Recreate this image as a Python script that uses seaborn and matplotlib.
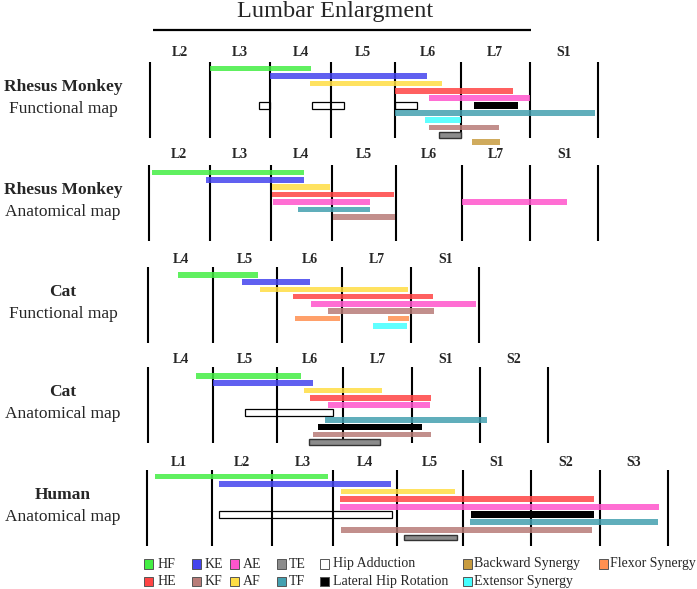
"""
Spinal segment maps of hindlimb muscle pools (rhesus monkey, cat, human)
Floating bars drawn over segment boundaries, one block per map
"""

import numpy as np
import pandas as pd
import matplotlib
matplotlib.use("Agg")
import matplotlib.pyplot as plt
from matplotlib.patches import Rectangle
import seaborn as sns

# ---- data: segment names of each map ----
RM_SEGMENTS = ['L2', 'L3', 'L4', 'L5', 'L6', 'L7', 'S1']
CAT_F_SEGMENTS = ['L4', 'L5', 'L6', 'L7', 'S1']
CAT_A_SEGMENTS = ['L4', 'L5', 'L6', 'L7', 'S1', 'S2']
HUMAN_SEGMENTS = ['L1', 'L2', 'L3', 'L4', 'L5', 'S1', 'S2', 'S3']

# ---- data: extents in segment units (0 = rostral edge of first segment) ----
RM_FUNC_MUSCLE = ['HF', 'KE', 'AF', 'HE', 'AE', 'Hip Adduction', 'Hip Adduction',
                  'Hip Adduction', 'Lateral Hip Rotation', 'TF', 'Extensor Synergy',
                  'KF', 'TE', 'Backward Synergy']
RM_FUNC_START = [1.00, 2.00, 2.66, 4.00, 4.51, 1.81, 2.69, 4.00, 5.19, 4.00, 4.45, 4.51, 4.67, 5.16]
RM_FUNC_END = [2.67, 4.49, 4.71, 5.76, 6.00, 2.00, 3.21, 4.33, 5.83, 6.97, 5.00, 5.55, 5.00, 5.57]
RM_FUNC_ROW = [0, 1, 2, 3, 4, 5, 5, 5, 5, 6, 7, 8, 9, 10]

RM_ANAT_MUSCLE = ['HF', 'KE', 'AF', 'HE', 'AE', 'AE', 'TF', 'KF']
RM_ANAT_START = [0.05, 0.93, 2.02, 2.02, 2.03, 5.01, 2.44, 3.02]
RM_ANAT_END = [2.54, 2.55, 2.97, 3.97, 3.59, 6.54, 3.59, 3.99]
RM_ANAT_ROW = [0, 1, 2, 3, 4, 4, 5, 6]

CAT_FUNC_MUSCLE = ['HF', 'KE', 'AF', 'HE', 'AE', 'KF', 'Flexor Synergy',
                   'Flexor Synergy', 'Extensor Synergy']
CAT_FUNC_START = [0.46, 1.46, 1.74, 2.25, 2.53, 2.78, 2.28, 3.67, 3.45]
CAT_FUNC_END = [1.71, 2.51, 3.96, 4.32, 4.95, 4.33, 2.97, 3.97, 3.94]
CAT_FUNC_ROW = [0, 1, 2, 3, 4, 5, 6, 6, 7]

CAT_ANAT_MUSCLE = ['HF', 'KE', 'AF', 'HE', 'AE', 'Hip Adduction', 'TF',
                   'Lateral Hip Rotation', 'KF', 'TE']
CAT_ANAT_START = [0.73, 1.00, 2.41, 2.50, 2.78, 1.50, 2.73, 2.62, 2.54, 2.48]
CAT_ANAT_END = [2.37, 2.55, 3.57, 4.28, 4.26, 2.85, 5.11, 4.14, 4.28, 3.53]
CAT_ANAT_ROW = [0, 1, 2, 3, 4, 5, 6, 7, 8, 9]

HUMAN_MUSCLE = ['HF', 'KE', 'AF', 'HE', 'AE', 'Hip Adduction', 'Lateral Hip Rotation',
                'TF', 'KF', 'TE']
HUMAN_START = [0.13, 1.12, 3.12, 3.10, 3.10, 1.12, 5.12, 5.11, 3.12, 4.10]
HUMAN_END = [2.91, 3.90, 4.89, 6.92, 7.87, 3.92, 6.92, 7.86, 6.89, 4.92]
HUMAN_ROW = [0, 1, 2, 3, 4, 5, 5, 6, 7, 8]

LEGEND_ROW1 = ['HF', 'KE', 'AE', 'TE', 'Hip Adduction', 'Backward Synergy', 'Flexor Synergy']
LEGEND_ROW2 = ['HE', 'KF', 'AF', 'TF', 'Lateral Hip Rotation', 'Extensor Synergy']

COLORS = {
    'HF': '#44ee44', 'KE': '#4444ee', 'AE': '#ff55cc', 'TE': '#8c8c8c',
    'HE': '#ff4444', 'KF': '#b87c78', 'AF': '#ffdd44', 'TF': '#44a0b0',
    'Hip Adduction': '#ffffff', 'Lateral Hip Rotation': '#000000',
    'Backward Synergy': '#c89c40', 'Flexor Synergy': '#ff9050',
    'Extensor Synergy': '#44ffff',
}

# ---- layout (figure pixels) ----
PANELS = [
    dict(name='Rhesus Monkey', sub='Functional map', segs=RM_SEGMENTS,
         muscle=RM_FUNC_MUSCLE, start=RM_FUNC_START, end=RM_FUNC_END, row=RM_FUNC_ROW,
         bounds=[150, 209.5, 270, 331, 395, 461, 529.5, 597.5], top=62, lab=10, r0=6.7, dr=7.35),
    dict(name='Rhesus Monkey', sub='Anatomical map', segs=RM_SEGMENTS,
         muscle=RM_ANAT_MUSCLE, start=RM_ANAT_START, end=RM_ANAT_END, row=RM_ANAT_ROW,
         bounds=[148.5, 210, 270.7, 332, 396, 461.7, 530.3, 598.3], top=165, lab=10, r0=7.3, dr=7.45),
    dict(name='Cat', sub='Functional map', segs=CAT_F_SEGMENTS,
         muscle=CAT_FUNC_MUSCLE, start=CAT_FUNC_START, end=CAT_FUNC_END, row=CAT_FUNC_ROW,
         bounds=[148.3, 212.7, 276.7, 342.3, 411, 479.3], top=267, lab=7.3, r0=7.7, dr=7.3),
    dict(name='Cat', sub='Anatomical map', segs=CAT_A_SEGMENTS,
         muscle=CAT_ANAT_MUSCLE, start=CAT_ANAT_START, end=CAT_ANAT_END, row=CAT_ANAT_ROW,
         bounds=[148.3, 213.3, 277, 343, 412, 480, 548], top=367, lab=7.3, r0=8.7, dr=7.35),
    dict(name='Human', sub='Anatomical map', segs=HUMAN_SEGMENTS,
         muscle=HUMAN_MUSCLE, start=HUMAN_START, end=HUMAN_END, row=HUMAN_ROW,
         bounds=[146.7, 211.7, 272.3, 333.3, 397, 462.7, 531.3, 599.7, 667.7], top=470, lab=7.7, r0=6.3, dr=7.65),
]
PANEL_HEIGHT = 75.5
BAR_H = 5.6
LEGEND_X = [144, 191.7, 230, 276.7, 320, 463, 599]
LEGEND_GAP = [13.5, 12.5, 12.5, 12, 13, 10.5, 11]
LEGEND_Y = [564, 581.5]

sns.set_theme(style='white')
plt.rcParams['font.family'] = ['Liberation Serif', 'DejaVu Serif']

fig = plt.figure(figsize=(6.97, 5.89), dpi=100)
ax = fig.add_axes([0, 0, 1, 1])
ax.set_xlim(0, 697)
ax.set_ylim(589, 0)
ax.axis('off')

# title and the bar under it
ax.text(335, 12, 'Lumbar Enlargment', ha='center', va='center', fontsize=17.5)
ax.plot([152.7, 530.7], [30, 30], color='black', lw=1.6, solid_capstyle='butt')

for p in PANELS:
    b = np.array(p['bounds'])
    top = p['top']
    ax.vlines(b, top, top + PANEL_HEIGHT, color='black', lw=1.5, zorder=2)
    mids = (b[:-1] + b[1:]) / 2
    for m, s in zip(mids, p['segs']):
        ax.text(m, top - p['lab'], s, ha='center', va='center', fontsize=10, fontweight='bold')
    ax.text(63, top + 25.3, p['name'], ha='center', va='center', fontsize=12.5, fontweight='bold')
    ax.text(63, top + 47, p['sub'], ha='center', va='center', fontsize=12.5)

    df = pd.DataFrame({'muscle': p['muscle'], 'start': p['start'],
                       'end': p['end'], 'row': p['row']})
    seg_idx = np.arange(len(b))
    df['x0'] = np.interp(df['start'], seg_idx, b)
    df['x1'] = np.interp(df['end'], seg_idx, b)
    df['y'] = top + p['r0'] + df['row'] * p['dr']

    for _, r in df.iterrows():
        m = r['muscle']
        if m == 'Hip Adduction':
            ax.barh(r['y'], r['x1'] - r['x0'], left=r['x0'], height=BAR_H + 0.6,
                    color='white', edgecolor='black', lw=0.9, zorder=1)
        elif m == 'TE':
            ax.barh(r['y'], r['x1'] - r['x0'], left=r['x0'], height=BAR_H,
                    color=COLORS[m], edgecolor='#333333', lw=1.0, zorder=3)
        elif m == 'Lateral Hip Rotation':
            ax.barh(r['y'], r['x1'] - r['x0'], left=r['x0'], height=BAR_H + 0.6,
                    color='black', edgecolor='none', zorder=3)
        else:
            ax.barh(r['y'], r['x1'] - r['x0'], left=r['x0'], height=BAR_H,
                    color=COLORS[m], edgecolor='none', alpha=0.85, zorder=3)

# legend
for y, names in zip(LEGEND_Y, [LEGEND_ROW1, LEGEND_ROW2]):
    for x, gap, name in zip(LEGEND_X, LEGEND_GAP, names):
        ax.add_patch(Rectangle((x, y - 4.6), 9.2, 9.2, facecolor=COLORS[name],
                               edgecolor='#555555', lw=0.7))
        ax.text(x + gap, y, name, ha='left', va='center', fontsize=10)

fig.savefig('out.png', dpi=100)
